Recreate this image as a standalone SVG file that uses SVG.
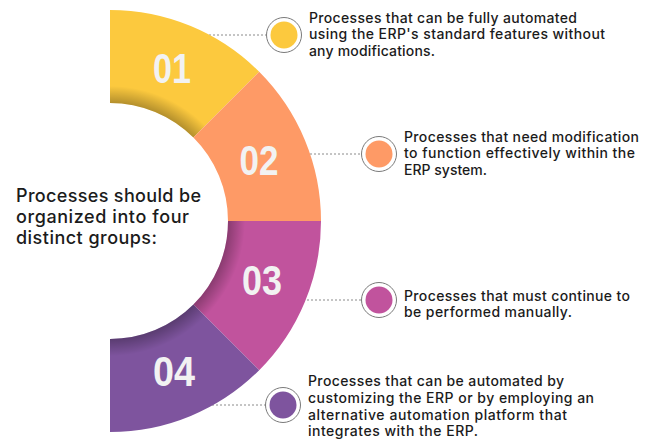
<svg xmlns="http://www.w3.org/2000/svg" width="650" height="442" viewBox="0 0 650 442">
<defs>
<radialGradient id="shade" gradientUnits="userSpaceOnUse" cx="110" cy="221" r="211">
<stop offset="0.555" stop-color="#000" stop-opacity="0.3"/>
<stop offset="0.64" stop-color="#000" stop-opacity="0"/>
</radialGradient>
<style>
.num{font-family:"Liberation Sans Narrow","Liberation Sans",Arial,sans-serif;font-weight:700;font-size:43px;fill:#F2F2F2;text-anchor:middle}
.txt{font-family:Inter,"Noto Sans","Liberation Sans",sans-serif;font-weight:500;font-size:14px;fill:#1b1b1b}
.title{font-family:Inter,"Noto Sans","Liberation Sans",sans-serif;font-weight:500;font-size:18px;fill:#1b1b1b}
.ring{fill:#fff;stroke:#7a7a7a;stroke-width:1}
.dot{stroke:#8a8a8a;stroke-width:1;stroke-dasharray:2 2;fill:none}
</style>
</defs>
<rect width="650" height="442" fill="#fff"/>
<g id="title">
<text class="title" x="16" y="202" textLength="185" lengthAdjust="spacing">Processes should be</text>
<text class="title" x="16" y="223" textLength="173" lengthAdjust="spacing">organized into four</text>
<text class="title" x="16" y="244" textLength="141" lengthAdjust="spacing">distinct groups:</text>
</g>
<g id="connectors">
<line class="dot" x1="209" y1="35" x2="266" y2="35"/>
<line class="dot" x1="310" y1="154" x2="361" y2="154"/>
<line class="dot" x1="307" y1="300" x2="361" y2="300"/>
<line class="dot" x1="212" y1="405" x2="266" y2="405"/>
</g>
<g id="node1">
<path d="M110,10 A211,211 0 0 1 259.2,71.8 L193.4,137.6 A118,118 0 0 0 110,103 Z" fill="#FCC93E"/>
<path d="M110,10 A211,211 0 0 1 259.2,71.8 L193.4,137.6 A118,118 0 0 0 110,103 Z" fill="url(#shade)"/>
<text class="num" x="172" y="83" textLength="38" lengthAdjust="spacingAndGlyphs">01</text>
<circle class="ring" cx="284" cy="35" r="17.5"/>
<circle cx="284" cy="35" r="13.5" fill="#FCC93E"/>
<text class="txt" x="309" y="23" textLength="268" lengthAdjust="spacing">Processes that can be fully automated</text>
<text class="txt" x="309" y="39" textLength="296" lengthAdjust="spacing">using the ERP's standard features without</text>
<text class="txt" x="309" y="56" textLength="126" lengthAdjust="spacing">any modifications.</text>
</g>
<g id="node2">
<path d="M259.2,71.8 A211,211 0 0 1 321,221 L228,221 A118,118 0 0 0 193.4,137.6 Z" fill="#FE9A66"/>
<text class="num" x="259" y="175" textLength="39" lengthAdjust="spacingAndGlyphs">02</text>
<circle class="ring" cx="379" cy="154" r="17.5"/>
<circle cx="379" cy="154" r="13.5" fill="#FE9A66"/>
<text class="txt" x="404" y="142" textLength="235" lengthAdjust="spacing">Processes that need modification</text>
<text class="txt" x="404" y="158" textLength="231" lengthAdjust="spacing">to function effectively within the</text>
<text class="txt" x="404" y="175" textLength="83" lengthAdjust="spacing">ERP system.</text>
</g>
<g id="node3">
<path d="M321,221 A211,211 0 0 1 259.2,370.2 L193.4,304.6 A118,118 0 0 0 228,221 Z" fill="#C1539D"/>
<path d="M321,221 A211,211 0 0 1 259.2,370.2 L193.4,304.6 A118,118 0 0 0 228,221 Z" fill="url(#shade)"/>
<text class="num" x="262" y="295" textLength="40" lengthAdjust="spacingAndGlyphs">03</text>
<circle class="ring" cx="379" cy="300" r="17.5"/>
<circle cx="379" cy="300" r="13.5" fill="#C1539D"/>
<text class="txt" x="404" y="301" textLength="226" lengthAdjust="spacing">Processes that must continue to</text>
<text class="txt" x="404" y="317" textLength="168" lengthAdjust="spacing">be performed manually.</text>
</g>
<g id="node4">
<path d="M259.2,370.2 A211,211 0 0 1 110,432 L110,339 A118,118 0 0 0 193.4,304.6 Z" fill="#7E549E"/>
<path d="M259.2,370.2 A211,211 0 0 1 110,432 L110,339 A118,118 0 0 0 193.4,304.6 Z" fill="url(#shade)"/>
<text class="num" x="174" y="386" textLength="42" lengthAdjust="spacingAndGlyphs">04</text>
<circle class="ring" cx="283" cy="405" r="17.5"/>
<circle cx="283" cy="405" r="13.5" fill="#7E549E"/>
<text class="txt" x="308" y="386" textLength="256" lengthAdjust="spacing">Processes that can be automated by</text>
<text class="txt" x="308" y="403" textLength="286" lengthAdjust="spacing">customizing the ERP or by employing an</text>
<text class="txt" x="308" y="420" textLength="259" lengthAdjust="spacing">alternative automation platform that</text>
<text class="txt" x="308" y="436" textLength="170" lengthAdjust="spacing">integrates with the ERP.</text>
</g>
</svg>
